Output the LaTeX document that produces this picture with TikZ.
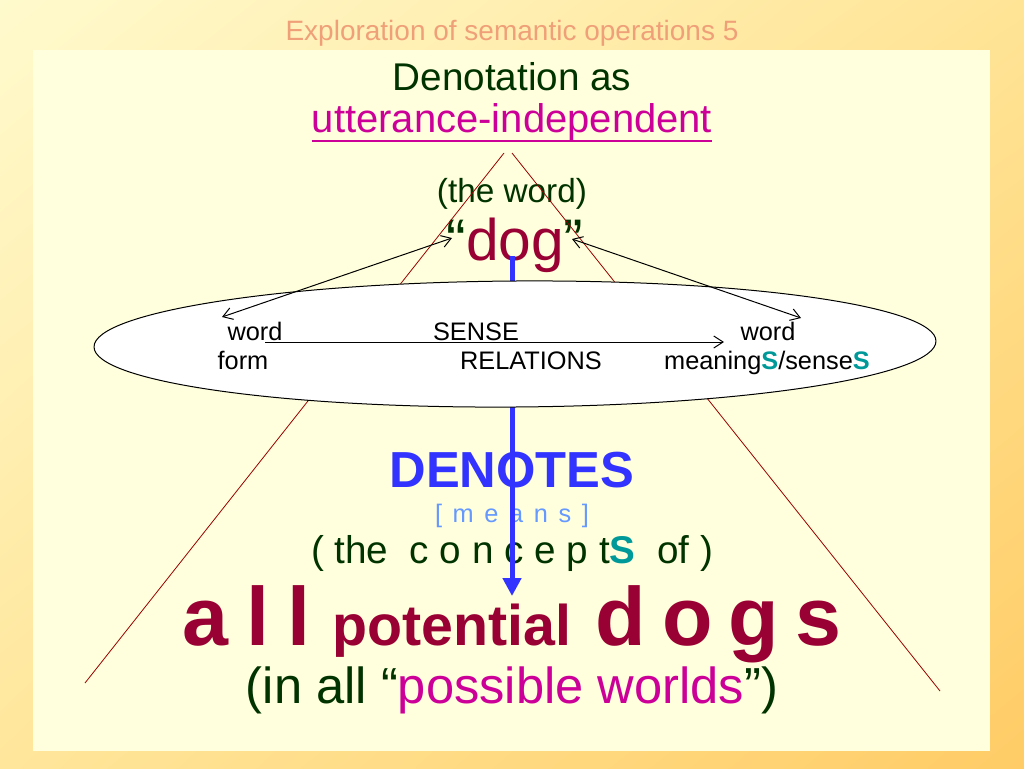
\documentclass[tikz,border=0pt]{standalone}
\usepackage{fontspec}
\setmainfont{Liberation Sans}
\usepackage{tikz}
\usetikzlibrary{arrows.meta}
\usetikzlibrary{shapes.geometric}
\usetikzlibrary{shadings}

\definecolor{bgTL}{RGB}{255,250,205}
\definecolor{bgTR}{RGB}{255,228,150}
\definecolor{bgBL}{RGB}{255,230,155}
\definecolor{bgBR}{RGB}{255,204,102}
\definecolor{panelCream}{RGB}{255,255,221}
\definecolor{slideSalmon}{RGB}{240,160,120}
\definecolor{slideGreen}{RGB}{0,51,0}
\definecolor{slideMagenta}{RGB}{204,0,153}
\definecolor{slideRed}{RGB}{153,0,51}
\definecolor{slideTeal}{RGB}{0,153,153}
\definecolor{slideBlue}{RGB}{51,51,255}
\definecolor{slideSky}{RGB}{102,153,255}
\definecolor{slideLine}{RGB}{153,0,0}
\newcommand{\lsp}{\hspace{0.42em}}

\begin{document}
\begin{tikzpicture}[x=0.75pt, y=-0.75pt,
txt/.style={anchor=base, inner sep=0pt},
ovaltxt/.style={anchor=base, inner sep=0pt, font={\fontsize{19}{22}\selectfont}},
oneway/.style={-{Straight Barb[length=7pt,width=9pt]}, line width=0.75pt},
twoway/.style={{Straight Barb[length=7pt,width=9pt]}-{Straight Barb[length=7pt,width=9pt]}, line width=0.75pt},
edge/.style={slideLine, line width=0.6pt}]
\useasboundingbox (0,0) rectangle (1024,768);
\shade[upper left=bgTL, upper right=bgTR, lower left=bgBL, lower right=bgBR] (0,0) rectangle (1024,768);
\fill[panelCream] (33,50) rectangle (990,751);
\node[txt, slideSalmon, font={\fontsize{21}{25}\selectfont}] (title) at (512,40) {Exploration of semantic operations 5};
\node[txt, slideGreen, font={\fontsize{29}{34}\selectfont}] (heading) at (512,90) {Denotation as};
\node[txt, slideMagenta, font={\fontsize{30}{35}\selectfont}] (indep) at (512,132) {utterance-independent};
\draw[slideMagenta, line width=1.5pt] (indep.south west) -- (indep.south east);
\node[txt, slideGreen, font={\fontsize{25}{30}\selectfont}] (theword) at (512,202) {(the word)};
\node[txt, font={\fontsize{44}{50}\selectfont}] (dog) at (515,260) {\textcolor{slideGreen}{“}\textcolor{slideRed}{dog}\textcolor{slideGreen}{”}};
\node[txt, slideBlue, font={\fontsize{38}{44}\selectfont\bfseries}] (denotes) at (512,487) {DENOTES};
\node[txt, slideSky, font={\fontsize{19}{22}\selectfont}] (means) at (512,522) {[\lsp m\lsp e\lsp a\lsp n\lsp s\lsp ]};
\node[txt, slideGreen, font={\fontsize{29}{34}\selectfont}] (concepts) at (512,563) {(\ the\ \ c\ o\ n\ c\ e\ p\ t\textbf{\textcolor{slideTeal}{S}}\ \ of\ )};
\node[txt, slideRed, font=\bfseries] (dogs) at (512,645) {{\fontsize{62}{70}\selectfont a\hspace{13.5pt}l\hspace{13.5pt}l}\hspace{16.5pt}{\fontsize{43}{50}\selectfont potential}\hspace{18pt}{\fontsize{62}{70}\selectfont d\hspace{12pt}o\hspace{12pt}g\hspace{12pt}s}};
\node[txt, slideGreen, font={\fontsize{38}{44}\selectfont}] (worlds) at (512,703) {(in all “\textcolor{slideMagenta}{possible worlds}”)};
\coordinate (apexL) at (504,153);
\coordinate (apexR) at (512,153);
\coordinate (footL) at (85,683);
\coordinate (footR) at (940,691);
\draw[edge] (apexL) -- (footL);
\draw[edge] (apexR) -- (footR);
\coordinate (denoteTop) at (512,256);
\coordinate (denoteTip) at (512,596);
\draw[slideBlue, line width=3.75pt, -{Triangle[width=13.5pt,length=13.5pt]}] (denoteTop) -- (denoteTip);
\node[draw, ellipse, fill=white, line width=0.75pt, minimum width=631.5pt, minimum height=94.5pt, inner sep=0pt, rotate=0.4] (senseOval) at (515,344) {};
\node[ovaltxt] (formTop) at (255,340) {word};
\node[ovaltxt] (formBot) at (243,369) {form};
\node[ovaltxt] (relTop) at (476,340) {SENSE};
\node[ovaltxt] (relBot) at (531,369) {RELATIONS};
\node[ovaltxt] (meanTop) at (768,340) {word};
\node[ovaltxt] (meanBot) at (767,369) {meaning\textbf{\textcolor{slideTeal}{S}}/sense\textbf{\textcolor{slideTeal}{S}}};
\coordinate (relStart) at (265,342);
\coordinate (relEnd) at (724,342);
\draw[oneway] (relStart) -- (relEnd);
\coordinate (formTip) at (222,317);
\coordinate (dogLeft) at (452,238);
\draw[twoway] (formTip) -- (dogLeft);
\coordinate (dogRight) at (572,239);
\coordinate (meanTip) at (801,318);
\draw[twoway] (dogRight) -- (meanTip);
\end{tikzpicture}
\end{document}
